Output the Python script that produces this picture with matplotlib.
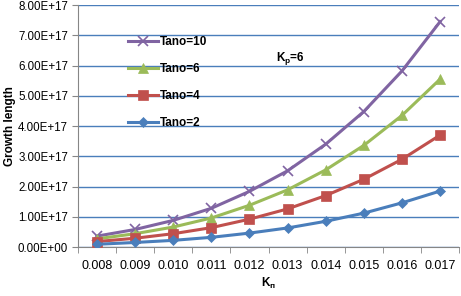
import matplotlib.pyplot as plt
import matplotlib.ticker as mticker
import numpy as np

plt.rcParams["font.family"] = ["Liberation Sans", "DejaVu Sans"]

categories = ["0.008", "0.009", "0.010", "0.011", "0.012",
              "0.013", "0.014", "0.015", "0.016", "0.017"]
tano2 = [0.09, 0.15, 0.22, 0.32, 0.46, 0.63, 0.85, 1.12, 1.46, 1.85]
tano4 = [0.18, 0.29, 0.44, 0.64, 0.92, 1.26, 1.70, 2.24, 2.90, 3.70]
tano6 = [0.27, 0.44, 0.66, 0.96, 1.38, 1.89, 2.55, 3.36, 4.35, 5.55]
tano10 = [0.36, 0.58, 0.88, 1.28, 1.84, 2.52, 3.40, 4.48, 5.82, 7.45]
scale = 1e17

fig = plt.figure(figsize=(4.61, 2.96), dpi=100)
ax = fig.add_axes([0.169, 0.1655, 0.827, 0.8175])

x = np.arange(len(categories))
series = [
    (tano10, "Tano=10", "#8064a2", "x", 7),
    (tano6, "Tano=6", "#9bbb59", "^", 7),
    (tano4, "Tano=4", "#c0504d", "s", 6.5),
    (tano2, "Tano=2", "#4a7ebb", "D", 5),
]
for vals, label, col, mk, ms in series:
    ax.plot(x, np.array(vals) * scale, color=col, lw=2.2, marker=mk,
            markersize=ms, markeredgewidth=1.2 if mk == "x" else 0.5,
            label=label, zorder=3)

ax.set_xlim(-0.5, len(categories) - 0.5)
ax.set_ylim(0, 8e17)
ax.set_yticks(np.arange(0, 8.01e17, 1e17))
ax.yaxis.set_major_formatter(mticker.FuncFormatter(lambda v, p: f"{v:.2E}"))
ax.set_xticks(x)
ax.set_xticklabels(categories)
ax.set_xticks(np.arange(-0.5, len(categories), 1), minor=True)
ax.tick_params(axis="x", which="major", length=0, pad=9, labelsize=9)
ax.tick_params(axis="x", which="minor", length=4, color="#868686")
ax.tick_params(axis="y", length=4, color="#868686", labelsize=8.3, pad=3)
ax.grid(axis="y", color="#4a7ebb", lw=1)
ax.set_axisbelow(True)
for s in ["top", "right"]:
    ax.spines[s].set_visible(False)
for s in ["left", "bottom"]:
    ax.spines[s].set_color("#868686")

ax.set_ylabel("Growth length", fontsize=8.5, fontweight="bold")
ax.yaxis.set_label_coords(-0.163, 0.5)
ax.set_xlabel("K$_{\\mathregular{п}}$", fontsize=8.5, fontweight="bold", labelpad=3)

ax.legend(loc="upper left", bbox_to_anchor=(0.12, 0.89), frameon=False,
          prop={"weight": "bold", "size": 8.5}, handlelength=2.5,
          labelspacing=1.25, handletextpad=0.2, borderaxespad=0)

ax.text(0.52, 0.77, "K$_{\\mathregular{p}}$=6", transform=ax.transAxes,
        fontsize=8.5, fontweight="bold")

fig.savefig("out.png", dpi=100)
